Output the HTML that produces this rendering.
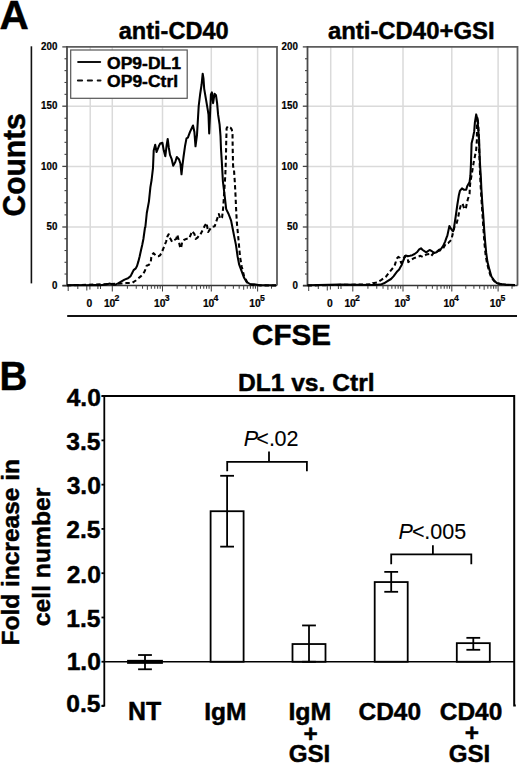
<!DOCTYPE html>
<html><head><meta charset="utf-8"><style>
html,body{margin:0;padding:0;background:#fff;}
svg{display:block;}
text{font-family:"Liberation Sans",sans-serif;fill:#000;stroke:#000;stroke-width:0.45px;stroke-linejoin:round;}
text.s{stroke-width:0.2px;}
text.n{stroke-width:0.1px;}
</style></head><body>
<svg width="520" height="764" viewBox="0 0 520 764" font-family="Liberation Sans, sans-serif">
<text transform="translate(-0.41,28.80) scale(1.0004,1)" font-size="40.58" font-weight="bold">A</text>
<text transform="translate(118.69,39.07) scale(1.0190,1)" font-size="23.13" font-weight="bold">anti-CD40</text>
<text transform="translate(327.88,39.07) scale(1.0339,1)" font-size="23.13" font-weight="bold">anti-CD40+GSI</text>
<text transform="translate(24.68,216.50) rotate(-90) scale(0.9379,1)" font-size="31.97" font-weight="bold">Counts</text>
<line x1="31.40" y1="46.30" x2="31.40" y2="283.40" stroke="#111" stroke-width="1.6"/>
<line x1="67.20" y1="316.00" x2="517.00" y2="316.00" stroke="#111" stroke-width="1.8"/>
<text transform="translate(252.01,345.10) scale(0.9747,1)" font-size="30.42" font-weight="bold">CFSE</text>
<line x1="90.20" y1="46.90" x2="90.20" y2="285.50" stroke="#dadada" stroke-width="1.5"/>
<line x1="112.30" y1="46.90" x2="112.30" y2="285.50" stroke="#dadada" stroke-width="1.5"/>
<line x1="162.50" y1="46.90" x2="162.50" y2="285.50" stroke="#dadada" stroke-width="1.5"/>
<line x1="211.30" y1="46.90" x2="211.30" y2="285.50" stroke="#dadada" stroke-width="1.5"/>
<line x1="257.60" y1="46.90" x2="257.60" y2="285.50" stroke="#dadada" stroke-width="1.5"/>
<line x1="67.00" y1="227.00" x2="277.00" y2="227.00" stroke="#dadada" stroke-width="1.5"/>
<line x1="67.00" y1="166.40" x2="277.00" y2="166.40" stroke="#dadada" stroke-width="1.5"/>
<line x1="67.00" y1="106.20" x2="277.00" y2="106.20" stroke="#dadada" stroke-width="1.5"/>
<polyline points="67.0,46.9 277.0,46.9 277.0,285.5" fill="none" stroke="#5c5c5c" stroke-width="1.8"/>
<line x1="67.00" y1="46.00" x2="67.00" y2="286.00" stroke="#4a4a4a" stroke-width="1.8"/>
<line x1="62.30" y1="285.80" x2="67.00" y2="285.80" stroke="#444" stroke-width="1.3"/>
<line x1="64.50" y1="274.04" x2="67.00" y2="274.04" stroke="#444" stroke-width="1.1"/>
<line x1="64.50" y1="262.28" x2="67.00" y2="262.28" stroke="#444" stroke-width="1.1"/>
<line x1="64.50" y1="250.52" x2="67.00" y2="250.52" stroke="#444" stroke-width="1.1"/>
<line x1="64.50" y1="238.76" x2="67.00" y2="238.76" stroke="#444" stroke-width="1.1"/>
<line x1="62.30" y1="227.00" x2="67.00" y2="227.00" stroke="#444" stroke-width="1.3"/>
<line x1="64.50" y1="214.88" x2="67.00" y2="214.88" stroke="#444" stroke-width="1.1"/>
<line x1="64.50" y1="202.76" x2="67.00" y2="202.76" stroke="#444" stroke-width="1.1"/>
<line x1="64.50" y1="190.64" x2="67.00" y2="190.64" stroke="#444" stroke-width="1.1"/>
<line x1="64.50" y1="178.52" x2="67.00" y2="178.52" stroke="#444" stroke-width="1.1"/>
<line x1="62.30" y1="166.40" x2="67.00" y2="166.40" stroke="#444" stroke-width="1.3"/>
<line x1="64.50" y1="154.36" x2="67.00" y2="154.36" stroke="#444" stroke-width="1.1"/>
<line x1="64.50" y1="142.32" x2="67.00" y2="142.32" stroke="#444" stroke-width="1.1"/>
<line x1="64.50" y1="130.28" x2="67.00" y2="130.28" stroke="#444" stroke-width="1.1"/>
<line x1="64.50" y1="118.24" x2="67.00" y2="118.24" stroke="#444" stroke-width="1.1"/>
<line x1="62.30" y1="106.20" x2="67.00" y2="106.20" stroke="#444" stroke-width="1.3"/>
<line x1="64.50" y1="94.34" x2="67.00" y2="94.34" stroke="#444" stroke-width="1.1"/>
<line x1="64.50" y1="82.48" x2="67.00" y2="82.48" stroke="#444" stroke-width="1.1"/>
<line x1="64.50" y1="70.62" x2="67.00" y2="70.62" stroke="#444" stroke-width="1.1"/>
<line x1="64.50" y1="58.76" x2="67.00" y2="58.76" stroke="#444" stroke-width="1.1"/>
<line x1="62.30" y1="46.90" x2="67.00" y2="46.90" stroke="#444" stroke-width="1.3"/>
<text transform="translate(51.96,289.05) scale(0.95,1)" font-size="10.3" font-weight="bold" class="s">0</text>
<text transform="translate(46.53,230.25) scale(0.95,1)" font-size="10.3" font-weight="bold" class="s">50</text>
<text transform="translate(41.10,169.65) scale(0.95,1)" font-size="10.3" font-weight="bold" class="s">100</text>
<text transform="translate(41.10,109.45) scale(0.95,1)" font-size="10.3" font-weight="bold" class="s">150</text>
<text transform="translate(41.10,50.15) scale(0.95,1)" font-size="10.3" font-weight="bold" class="s">200</text>
<line x1="62.50" y1="285.50" x2="277.00" y2="285.50" stroke="#333" stroke-width="1.6"/>
<line x1="112.30" y1="285.50" x2="112.30" y2="291.50" stroke="#444" stroke-width="1.05"/>
<line x1="127.41" y1="285.50" x2="127.41" y2="288.70" stroke="#444" stroke-width="1.05"/>
<line x1="136.25" y1="285.50" x2="136.25" y2="288.70" stroke="#444" stroke-width="1.05"/>
<line x1="142.52" y1="285.50" x2="142.52" y2="288.70" stroke="#444" stroke-width="1.05"/>
<line x1="147.39" y1="285.50" x2="147.39" y2="289.80" stroke="#444" stroke-width="1.05"/>
<line x1="151.36" y1="285.50" x2="151.36" y2="288.70" stroke="#444" stroke-width="1.05"/>
<line x1="154.72" y1="285.50" x2="154.72" y2="288.70" stroke="#444" stroke-width="1.05"/>
<line x1="157.64" y1="285.50" x2="157.64" y2="288.70" stroke="#444" stroke-width="1.05"/>
<line x1="160.20" y1="285.50" x2="160.20" y2="288.70" stroke="#444" stroke-width="1.05"/>
<line x1="162.50" y1="285.50" x2="162.50" y2="291.50" stroke="#444" stroke-width="1.05"/>
<line x1="177.19" y1="285.50" x2="177.19" y2="288.70" stroke="#444" stroke-width="1.05"/>
<line x1="185.78" y1="285.50" x2="185.78" y2="288.70" stroke="#444" stroke-width="1.05"/>
<line x1="191.88" y1="285.50" x2="191.88" y2="288.70" stroke="#444" stroke-width="1.05"/>
<line x1="196.61" y1="285.50" x2="196.61" y2="289.80" stroke="#444" stroke-width="1.05"/>
<line x1="200.47" y1="285.50" x2="200.47" y2="288.70" stroke="#444" stroke-width="1.05"/>
<line x1="203.74" y1="285.50" x2="203.74" y2="288.70" stroke="#444" stroke-width="1.05"/>
<line x1="206.57" y1="285.50" x2="206.57" y2="288.70" stroke="#444" stroke-width="1.05"/>
<line x1="209.07" y1="285.50" x2="209.07" y2="288.70" stroke="#444" stroke-width="1.05"/>
<line x1="211.30" y1="285.50" x2="211.30" y2="291.50" stroke="#444" stroke-width="1.05"/>
<line x1="225.24" y1="285.50" x2="225.24" y2="288.70" stroke="#444" stroke-width="1.05"/>
<line x1="233.39" y1="285.50" x2="233.39" y2="288.70" stroke="#444" stroke-width="1.05"/>
<line x1="239.18" y1="285.50" x2="239.18" y2="288.70" stroke="#444" stroke-width="1.05"/>
<line x1="243.66" y1="285.50" x2="243.66" y2="289.80" stroke="#444" stroke-width="1.05"/>
<line x1="247.33" y1="285.50" x2="247.33" y2="288.70" stroke="#444" stroke-width="1.05"/>
<line x1="250.43" y1="285.50" x2="250.43" y2="288.70" stroke="#444" stroke-width="1.05"/>
<line x1="253.11" y1="285.50" x2="253.11" y2="288.70" stroke="#444" stroke-width="1.05"/>
<line x1="255.48" y1="285.50" x2="255.48" y2="288.70" stroke="#444" stroke-width="1.05"/>
<line x1="257.60" y1="285.50" x2="257.60" y2="291.50" stroke="#444" stroke-width="1.05"/>
<line x1="271.51" y1="285.50" x2="271.51" y2="288.70" stroke="#444" stroke-width="1.05"/>
<line x1="68.20" y1="285.50" x2="68.20" y2="291.00" stroke="#444" stroke-width="1.05"/>
<line x1="77.80" y1="285.50" x2="77.80" y2="289.00" stroke="#444" stroke-width="1.05"/>
<line x1="86.80" y1="285.50" x2="86.80" y2="290.50" stroke="#444" stroke-width="1.05"/>
<line x1="89.90" y1="285.50" x2="89.90" y2="289.50" stroke="#444" stroke-width="1.05"/>
<line x1="97.90" y1="285.50" x2="97.90" y2="289.00" stroke="#444" stroke-width="1.05"/>
<line x1="100.50" y1="285.50" x2="100.50" y2="289.00" stroke="#444" stroke-width="1.05"/>
<text x="89.30" y="306.60" font-size="10.3" font-weight="bold" text-anchor="middle" class="s">0</text>
<text x="103.90" y="306.6" font-size="10.3" font-weight="bold" class="s">10</text>
<text x="114.60" y="301.2" font-size="8.7" font-weight="bold" class="s">2</text>
<text x="154.10" y="306.6" font-size="10.3" font-weight="bold" class="s">10</text>
<text x="164.80" y="301.2" font-size="8.7" font-weight="bold" class="s">3</text>
<text x="202.90" y="306.6" font-size="10.3" font-weight="bold" class="s">10</text>
<text x="213.60" y="301.2" font-size="8.7" font-weight="bold" class="s">4</text>
<text x="249.20" y="306.6" font-size="10.3" font-weight="bold" class="s">10</text>
<text x="259.90" y="301.2" font-size="8.7" font-weight="bold" class="s">5</text>
<line x1="330.70" y1="46.90" x2="330.70" y2="285.50" stroke="#dadada" stroke-width="1.5"/>
<line x1="352.80" y1="46.90" x2="352.80" y2="285.50" stroke="#dadada" stroke-width="1.5"/>
<line x1="403.00" y1="46.90" x2="403.00" y2="285.50" stroke="#dadada" stroke-width="1.5"/>
<line x1="451.80" y1="46.90" x2="451.80" y2="285.50" stroke="#dadada" stroke-width="1.5"/>
<line x1="498.10" y1="46.90" x2="498.10" y2="285.50" stroke="#dadada" stroke-width="1.5"/>
<line x1="307.50" y1="227.00" x2="517.50" y2="227.00" stroke="#dadada" stroke-width="1.5"/>
<line x1="307.50" y1="166.40" x2="517.50" y2="166.40" stroke="#dadada" stroke-width="1.5"/>
<line x1="307.50" y1="106.20" x2="517.50" y2="106.20" stroke="#dadada" stroke-width="1.5"/>
<polyline points="307.5,46.9 517.5,46.9 517.5,285.5" fill="none" stroke="#5c5c5c" stroke-width="1.8"/>
<line x1="307.50" y1="46.00" x2="307.50" y2="286.00" stroke="#4a4a4a" stroke-width="1.8"/>
<line x1="302.80" y1="285.80" x2="307.50" y2="285.80" stroke="#444" stroke-width="1.3"/>
<line x1="305.00" y1="274.04" x2="307.50" y2="274.04" stroke="#444" stroke-width="1.1"/>
<line x1="305.00" y1="262.28" x2="307.50" y2="262.28" stroke="#444" stroke-width="1.1"/>
<line x1="305.00" y1="250.52" x2="307.50" y2="250.52" stroke="#444" stroke-width="1.1"/>
<line x1="305.00" y1="238.76" x2="307.50" y2="238.76" stroke="#444" stroke-width="1.1"/>
<line x1="302.80" y1="227.00" x2="307.50" y2="227.00" stroke="#444" stroke-width="1.3"/>
<line x1="305.00" y1="214.88" x2="307.50" y2="214.88" stroke="#444" stroke-width="1.1"/>
<line x1="305.00" y1="202.76" x2="307.50" y2="202.76" stroke="#444" stroke-width="1.1"/>
<line x1="305.00" y1="190.64" x2="307.50" y2="190.64" stroke="#444" stroke-width="1.1"/>
<line x1="305.00" y1="178.52" x2="307.50" y2="178.52" stroke="#444" stroke-width="1.1"/>
<line x1="302.80" y1="166.40" x2="307.50" y2="166.40" stroke="#444" stroke-width="1.3"/>
<line x1="305.00" y1="154.36" x2="307.50" y2="154.36" stroke="#444" stroke-width="1.1"/>
<line x1="305.00" y1="142.32" x2="307.50" y2="142.32" stroke="#444" stroke-width="1.1"/>
<line x1="305.00" y1="130.28" x2="307.50" y2="130.28" stroke="#444" stroke-width="1.1"/>
<line x1="305.00" y1="118.24" x2="307.50" y2="118.24" stroke="#444" stroke-width="1.1"/>
<line x1="302.80" y1="106.20" x2="307.50" y2="106.20" stroke="#444" stroke-width="1.3"/>
<line x1="305.00" y1="94.34" x2="307.50" y2="94.34" stroke="#444" stroke-width="1.1"/>
<line x1="305.00" y1="82.48" x2="307.50" y2="82.48" stroke="#444" stroke-width="1.1"/>
<line x1="305.00" y1="70.62" x2="307.50" y2="70.62" stroke="#444" stroke-width="1.1"/>
<line x1="305.00" y1="58.76" x2="307.50" y2="58.76" stroke="#444" stroke-width="1.1"/>
<line x1="302.80" y1="46.90" x2="307.50" y2="46.90" stroke="#444" stroke-width="1.3"/>
<text transform="translate(292.46,289.05) scale(0.95,1)" font-size="10.3" font-weight="bold" class="s">0</text>
<text transform="translate(287.03,230.25) scale(0.95,1)" font-size="10.3" font-weight="bold" class="s">50</text>
<text transform="translate(281.60,169.65) scale(0.95,1)" font-size="10.3" font-weight="bold" class="s">100</text>
<text transform="translate(281.60,109.45) scale(0.95,1)" font-size="10.3" font-weight="bold" class="s">150</text>
<text transform="translate(281.60,50.15) scale(0.95,1)" font-size="10.3" font-weight="bold" class="s">200</text>
<line x1="303.00" y1="285.50" x2="517.50" y2="285.50" stroke="#333" stroke-width="1.6"/>
<line x1="352.80" y1="285.50" x2="352.80" y2="291.50" stroke="#444" stroke-width="1.05"/>
<line x1="367.91" y1="285.50" x2="367.91" y2="288.70" stroke="#444" stroke-width="1.05"/>
<line x1="376.75" y1="285.50" x2="376.75" y2="288.70" stroke="#444" stroke-width="1.05"/>
<line x1="383.02" y1="285.50" x2="383.02" y2="288.70" stroke="#444" stroke-width="1.05"/>
<line x1="387.89" y1="285.50" x2="387.89" y2="289.80" stroke="#444" stroke-width="1.05"/>
<line x1="391.86" y1="285.50" x2="391.86" y2="288.70" stroke="#444" stroke-width="1.05"/>
<line x1="395.22" y1="285.50" x2="395.22" y2="288.70" stroke="#444" stroke-width="1.05"/>
<line x1="398.14" y1="285.50" x2="398.14" y2="288.70" stroke="#444" stroke-width="1.05"/>
<line x1="400.70" y1="285.50" x2="400.70" y2="288.70" stroke="#444" stroke-width="1.05"/>
<line x1="403.00" y1="285.50" x2="403.00" y2="291.50" stroke="#444" stroke-width="1.05"/>
<line x1="417.69" y1="285.50" x2="417.69" y2="288.70" stroke="#444" stroke-width="1.05"/>
<line x1="426.28" y1="285.50" x2="426.28" y2="288.70" stroke="#444" stroke-width="1.05"/>
<line x1="432.38" y1="285.50" x2="432.38" y2="288.70" stroke="#444" stroke-width="1.05"/>
<line x1="437.11" y1="285.50" x2="437.11" y2="289.80" stroke="#444" stroke-width="1.05"/>
<line x1="440.97" y1="285.50" x2="440.97" y2="288.70" stroke="#444" stroke-width="1.05"/>
<line x1="444.24" y1="285.50" x2="444.24" y2="288.70" stroke="#444" stroke-width="1.05"/>
<line x1="447.07" y1="285.50" x2="447.07" y2="288.70" stroke="#444" stroke-width="1.05"/>
<line x1="449.57" y1="285.50" x2="449.57" y2="288.70" stroke="#444" stroke-width="1.05"/>
<line x1="451.80" y1="285.50" x2="451.80" y2="291.50" stroke="#444" stroke-width="1.05"/>
<line x1="465.74" y1="285.50" x2="465.74" y2="288.70" stroke="#444" stroke-width="1.05"/>
<line x1="473.89" y1="285.50" x2="473.89" y2="288.70" stroke="#444" stroke-width="1.05"/>
<line x1="479.68" y1="285.50" x2="479.68" y2="288.70" stroke="#444" stroke-width="1.05"/>
<line x1="484.16" y1="285.50" x2="484.16" y2="289.80" stroke="#444" stroke-width="1.05"/>
<line x1="487.83" y1="285.50" x2="487.83" y2="288.70" stroke="#444" stroke-width="1.05"/>
<line x1="490.93" y1="285.50" x2="490.93" y2="288.70" stroke="#444" stroke-width="1.05"/>
<line x1="493.61" y1="285.50" x2="493.61" y2="288.70" stroke="#444" stroke-width="1.05"/>
<line x1="495.98" y1="285.50" x2="495.98" y2="288.70" stroke="#444" stroke-width="1.05"/>
<line x1="498.10" y1="285.50" x2="498.10" y2="291.50" stroke="#444" stroke-width="1.05"/>
<line x1="512.01" y1="285.50" x2="512.01" y2="288.70" stroke="#444" stroke-width="1.05"/>
<line x1="308.70" y1="285.50" x2="308.70" y2="291.00" stroke="#444" stroke-width="1.05"/>
<line x1="318.30" y1="285.50" x2="318.30" y2="289.00" stroke="#444" stroke-width="1.05"/>
<line x1="327.30" y1="285.50" x2="327.30" y2="290.50" stroke="#444" stroke-width="1.05"/>
<line x1="330.40" y1="285.50" x2="330.40" y2="289.50" stroke="#444" stroke-width="1.05"/>
<line x1="338.40" y1="285.50" x2="338.40" y2="289.00" stroke="#444" stroke-width="1.05"/>
<line x1="341.00" y1="285.50" x2="341.00" y2="289.00" stroke="#444" stroke-width="1.05"/>
<text x="329.80" y="306.60" font-size="10.3" font-weight="bold" text-anchor="middle" class="s">0</text>
<text x="344.40" y="306.6" font-size="10.3" font-weight="bold" class="s">10</text>
<text x="355.10" y="301.2" font-size="8.7" font-weight="bold" class="s">2</text>
<text x="394.60" y="306.6" font-size="10.3" font-weight="bold" class="s">10</text>
<text x="405.30" y="301.2" font-size="8.7" font-weight="bold" class="s">3</text>
<text x="443.40" y="306.6" font-size="10.3" font-weight="bold" class="s">10</text>
<text x="454.10" y="301.2" font-size="8.7" font-weight="bold" class="s">4</text>
<text x="489.70" y="306.6" font-size="10.3" font-weight="bold" class="s">10</text>
<text x="500.40" y="301.2" font-size="8.7" font-weight="bold" class="s">5</text>
<rect x="70.7" y="50" width="116.5" height="48.3" fill="#fff" stroke="#555" stroke-width="1.2"/>
<line x1="78.10" y1="62.00" x2="100.20" y2="62.00" stroke="#111" stroke-width="2.0" stroke-linecap="round"/>
<line x1="77.90" y1="80.50" x2="100.50" y2="80.50" stroke="#111" stroke-width="2.0" stroke-linecap="round" stroke-dasharray="4.2,5.7"/>
<text transform="translate(107.10,68.73) scale(1.0352,1)" font-size="16.90" font-weight="bold">OP9-DL1</text>
<text transform="translate(107.10,86.93) scale(1.0469,1)" font-size="16.73" font-weight="bold">OP9-Ctrl</text>
<polyline points="67.0,285.5 121.6,283.6 123.2,283.5 126.2,283.1 129.3,282.9 132.3,282.9 135.8,280.5 138.4,278.3 141.0,276.1 143.1,274.0 144.8,271.0 145.7,268.4 146.6,265.8 148.7,264.9 150.5,263.2 150.9,261.0 151.3,257.1 152.2,254.5 153.5,253.2 154.8,254.5 156.5,256.2 158.7,256.2 160.0,255.4 161.5,253.0 163.9,247.2 166.2,241.3 167.4,236.5 168.6,234.2 169.8,237.7 172.1,241.8 174.5,240.0 176.2,238.9 177.4,234.8 178.6,240.0 179.8,246.0 181.0,248.3 182.1,242.4 183.9,240.0 186.3,238.9 189.2,238.3 192.2,231.2 194.5,234.2 195.7,238.9 197.5,237.7 199.2,235.4 200.0,235.3 202.5,230.4 204.9,225.5 206.5,223.0 208.2,232.0 211.4,227.1 214.7,226.3 216.3,221.4 218.8,214.0 220.4,219.0 222.1,217.3 223.3,206.7 224.0,195.0 225.3,175.4 225.9,159.7 226.2,142.7 226.6,128.3 227.9,126.3 230.5,127.6 231.8,129.6 232.5,133.5 232.7,149.2 233.1,166.2 234.0,170.1 234.8,181.9 235.5,195.0 236.0,206.7 236.8,222.2 238.4,238.6 240.0,256.5 241.7,266.4 244.1,276.2 247.4,282.7 250.0,284.5 255.0,285.3 276.0,285.5" fill="none" stroke="#000" stroke-width="2.05" stroke-dasharray="4.4,2.9" stroke-linejoin="round"/>
<polyline points="67.0,285.3 75.0,285.0 85.0,285.3 95.0,285.0 100.0,285.2 106.0,284.5 110.0,283.6 113.0,284.8 115.0,284.8 118.5,283.1 121.5,281.3 124.5,279.6 128.0,278.3 130.6,276.1 132.3,272.7 133.6,270.1 135.8,268.4 137.1,265.8 138.4,261.4 139.7,256.2 141.0,250.2 142.2,245.0 143.4,239.0 145.0,227.5 145.3,227.5 146.8,213.0 148.9,201.6 150.4,187.2 151.6,180.0 153.0,167.8 153.7,150.6 155.2,144.8 156.6,152.0 158.8,146.3 160.2,143.4 162.4,142.7 163.8,150.6 165.3,156.3 166.7,144.8 167.7,139.0 168.8,147.7 170.0,154.9 171.7,159.2 173.2,165.7 175.3,162.0 176.8,157.0 178.9,159.2 180.4,163.5 181.5,174.3 182.5,165.0 183.5,157.0 185.0,146.3 186.5,138.4 187.9,137.7 190.0,131.9 193.0,125.5 194.4,132.0 195.5,146.3 197.0,134.8 198.7,106.0 200.1,94.5 201.6,84.5 202.7,73.7 203.5,78.7 204.2,88.8 205.9,98.8 207.6,108.9 208.5,114.7 209.2,133.4 209.9,117.6 210.9,94.5 211.9,92.4 213.1,103.2 214.5,93.8 216.0,95.3 217.1,103.2 218.1,114.7 219.6,124.7 220.5,136.0 221.0,149.0 221.7,160.0 222.9,181.3 224.5,194.4 226.2,209.1 228.6,214.0 231.1,220.6 232.7,228.8 234.3,236.9 236.0,245.1 237.6,256.5 239.2,264.7 241.7,271.3 244.1,277.8 246.6,281.9 249.9,284.0 254.0,284.3 260.0,285.2 276.0,285.3" fill="none" stroke="#000" stroke-width="2.05" stroke-linejoin="round"/>
<polyline points="307.5,285.5 372.3,284.3 372.8,283.3 377.1,282.4 381.4,279.8 385.8,276.8 388.4,273.4 390.5,270.8 393.5,267.3 394.8,265.1 395.7,262.1 396.6,258.7 398.3,256.9 399.6,257.8 400.5,261.2 401.3,263.0 403.1,259.5 404.8,256.1 406.5,257.5 407.7,258.5 408.3,262.1 411.2,259.8 414.0,258.1 417.5,256.9 420.4,255.8 422.7,256.9 426.2,254.6 429.6,254.0 431.3,255.8 434.2,252.3 437.7,251.2 441.2,250.0 443.5,247.7 445.8,243.7 448.1,243.1 451.5,239.6 451.9,237.2 453.2,231.9 454.5,226.7 456.8,222.8 458.3,216.5 459.4,210.3 460.9,205.0 462.5,203.5 464.1,208.2 465.7,209.2 466.7,204.0 467.7,199.8 469.6,193.5 469.8,188.3 470.4,181.0 471.0,178.6 473.6,162.9 476.2,149.8 476.9,139.6 476.9,126.2 477.5,117.0 478.3,125.0 478.9,140.0 479.4,155.0 479.9,170.0 480.6,185.0 481.5,200.0 482.5,215.0 483.5,230.0 484.5,244.0 485.6,255.0 487.0,263.0 489.0,271.0 491.0,277.0 494.0,281.0 497.0,283.5 505.0,284.8 515.0,285.3" fill="none" stroke="#000" stroke-width="2.05" stroke-dasharray="4.4,2.9" stroke-linejoin="round"/>
<polyline points="307.5,285.3 340.0,284.6 370.8,284.9 373.7,285.0 380.6,284.6 384.0,283.3 387.5,281.1 391.0,279.0 393.5,276.4 395.7,273.4 397.4,271.2 399.2,269.5 400.5,266.9 401.8,264.7 403.1,261.2 404.4,257.8 405.7,255.6 407.4,256.1 407.7,256.3 410.0,255.8 412.3,255.2 414.6,254.0 416.9,252.3 419.2,249.4 421.0,248.3 422.7,250.0 424.4,251.2 426.2,252.3 427.9,251.2 429.6,250.0 431.9,251.2 434.2,252.9 436.5,252.3 438.8,250.0 441.2,248.8 443.5,245.4 445.2,241.3 446.9,236.7 447.3,235.9 449.4,226.0 451.5,229.6 453.1,231.2 454.1,227.0 455.7,216.5 457.3,205.0 458.8,195.6 459.9,190.9 462.0,188.3 464.1,189.8 466.2,189.8 467.2,186.2 469.6,182.0 470.4,175.7 470.9,165.2 471.6,143.2 472.9,138.0 474.2,131.4 474.9,122.3 476.2,114.4 477.5,119.7 478.2,128.8 479.1,139.6 479.5,152.4 480.1,165.5 480.8,176.0 481.4,189.1 482.3,203.1 483.3,216.2 484.2,229.6 485.2,242.4 486.2,252.9 487.5,262.1 489.5,269.9 491.4,276.5 494.1,280.4 496.7,283.0 500.6,284.1 505.9,284.6 515.0,285.0" fill="none" stroke="#000" stroke-width="2.05" stroke-linejoin="round"/>
<text transform="translate(-0.60,390.00) scale(0.9460,1)" font-size="40.72" font-weight="bold">B</text>
<text transform="translate(237.90,391.26) scale(1.0219,1)" font-size="24.08" font-weight="bold">DL1 vs. Ctrl</text>
<polyline points="101.7,396.1 514.2,396.1 514.2,705.6 515.8,705.6" fill="none" stroke="#000" stroke-width="2"/>
<polyline points="104.3,396.1 104.3,705.6 101.7,705.6" fill="none" stroke="#000" stroke-width="1.8"/>
<line x1="101.50" y1="706.03" x2="104.30" y2="706.03" stroke="#000" stroke-width="1.8"/>
<text x="100.52" y="711.81" font-size="24.60" font-weight="bold" text-anchor="end">0.5</text>
<line x1="101.50" y1="661.75" x2="104.30" y2="661.75" stroke="#000" stroke-width="1.8"/>
<text x="100.89" y="670.04" font-size="24.60" font-weight="bold" text-anchor="end">1.0</text>
<line x1="101.50" y1="617.48" x2="104.30" y2="617.48" stroke="#000" stroke-width="1.8"/>
<text x="100.52" y="626.84" font-size="24.60" font-weight="bold" text-anchor="end">1.5</text>
<line x1="101.50" y1="573.20" x2="104.30" y2="573.20" stroke="#000" stroke-width="1.8"/>
<text x="100.89" y="582.59" font-size="24.60" font-weight="bold" text-anchor="end">2.0</text>
<line x1="101.50" y1="528.92" x2="104.30" y2="528.92" stroke="#000" stroke-width="1.8"/>
<text x="100.52" y="538.41" font-size="24.60" font-weight="bold" text-anchor="end">2.5</text>
<line x1="101.50" y1="484.65" x2="104.30" y2="484.65" stroke="#000" stroke-width="1.8"/>
<text x="100.89" y="493.64" font-size="24.60" font-weight="bold" text-anchor="end">3.0</text>
<line x1="101.50" y1="440.38" x2="104.30" y2="440.38" stroke="#000" stroke-width="1.8"/>
<text x="100.52" y="450.36" font-size="24.60" font-weight="bold" text-anchor="end">3.5</text>
<line x1="101.50" y1="396.10" x2="104.30" y2="396.10" stroke="#000" stroke-width="1.8"/>
<text x="100.89" y="405.89" font-size="24.60" font-weight="bold" text-anchor="end">4.0</text>
<line x1="104.30" y1="661.75" x2="514.20" y2="661.75" stroke="#000" stroke-width="1.7"/>
<rect x="127.1" y="659.85" width="35.8" height="4.0" fill="#000"/>
<line x1="145.00" y1="655.02" x2="145.00" y2="669.28" stroke="#000" stroke-width="1.8"/>
<line x1="138.10" y1="655.02" x2="151.90" y2="655.02" stroke="#000" stroke-width="1.8"/>
<line x1="138.10" y1="669.28" x2="151.90" y2="669.28" stroke="#000" stroke-width="1.8"/>
<rect x="210.60" y="511.22" width="33.00" height="150.53" fill="#fff" stroke="#000" stroke-width="1.8"/>
<line x1="227.10" y1="475.80" x2="227.10" y2="546.63" stroke="#000" stroke-width="1.8"/>
<line x1="220.20" y1="475.80" x2="234.00" y2="475.80" stroke="#000" stroke-width="1.8"/>
<line x1="220.20" y1="546.63" x2="234.00" y2="546.63" stroke="#000" stroke-width="1.8"/>
<rect x="292.50" y="644.04" width="33.00" height="17.71" fill="#fff" stroke="#000" stroke-width="1.8"/>
<line x1="309.00" y1="625.44" x2="309.00" y2="661.75" stroke="#000" stroke-width="1.8"/>
<line x1="302.10" y1="625.44" x2="315.90" y2="625.44" stroke="#000" stroke-width="1.8"/>
<line x1="302.10" y1="661.75" x2="315.90" y2="661.75" stroke="#000" stroke-width="1.8"/>
<rect x="374.70" y="582.06" width="33.00" height="79.69" fill="#fff" stroke="#000" stroke-width="1.8"/>
<line x1="391.20" y1="571.87" x2="391.20" y2="591.80" stroke="#000" stroke-width="1.8"/>
<line x1="384.30" y1="571.87" x2="398.10" y2="571.87" stroke="#000" stroke-width="1.8"/>
<line x1="384.30" y1="591.80" x2="398.10" y2="591.80" stroke="#000" stroke-width="1.8"/>
<rect x="456.80" y="643.15" width="33.00" height="18.60" fill="#fff" stroke="#000" stroke-width="1.8"/>
<line x1="473.30" y1="637.84" x2="473.30" y2="649.80" stroke="#000" stroke-width="1.8"/>
<line x1="466.40" y1="637.84" x2="480.20" y2="637.84" stroke="#000" stroke-width="1.8"/>
<line x1="466.40" y1="649.80" x2="480.20" y2="649.80" stroke="#000" stroke-width="1.8"/>
<polyline points="227.2,471.2 227.2,461.9 306.9,461.9 306.9,471.2" fill="none" stroke="#000" stroke-width="1.8"/>
<line x1="269.00" y1="461.90" x2="269.00" y2="451.60" stroke="#000" stroke-width="1.8"/>
<polyline points="391.2,564.2 391.2,554.3 471.3,554.3 471.3,564.2" fill="none" stroke="#000" stroke-width="1.8"/>
<line x1="432.90" y1="554.30" x2="432.90" y2="545.30" stroke="#000" stroke-width="1.8"/>
<text x="243.66 256.2 268.97 274.44 286.4" y="445.5" font-size="21.5" class="n"><tspan font-style="italic">P</tspan>&lt;.02</text>
<text x="398.56 412.0 424.27 430.24 442.2 454.15" y="538.8" font-size="21.5" class="n"><tspan font-style="italic">P</tspan>&lt;.005</text>
<text transform="translate(127.98,720.20) scale(0.9834,1)" font-size="25.36" font-weight="bold">NT</text>
<text transform="translate(204.21,719.85) scale(1.0413,1)" font-size="23.56" font-weight="bold">IgM</text>
<text transform="translate(288.38,719.85) scale(1.0573,1)" font-size="23.56" font-weight="bold">IgM</text>
<text transform="translate(303.43,741.61) scale(1.0099,1)" font-size="24.12" font-weight="bold">+</text>
<text transform="translate(288.63,762.06) scale(1.0052,1)" font-size="24.08" font-weight="bold">GSI</text>
<text transform="translate(358.52,720.16) scale(1.0270,1)" font-size="23.80" font-weight="bold">CD40</text>
<text transform="translate(439.82,720.17) scale(1.0455,1)" font-size="23.38" font-weight="bold">CD40</text>
<text transform="translate(464.63,741.41) scale(1.0099,1)" font-size="24.12" font-weight="bold">+</text>
<text transform="translate(448.73,761.76) scale(1.0086,1)" font-size="23.94" font-weight="bold">GSI</text>
<text transform="translate(19.07,645.49) rotate(-90) scale(1.0592,1)" font-size="23.13" font-weight="bold">Fold increase in</text>
<text transform="translate(49.56,626.19) rotate(-90) scale(1.0204,1)" font-size="24.22" font-weight="bold">cell number</text>
</svg>
</body></html>
